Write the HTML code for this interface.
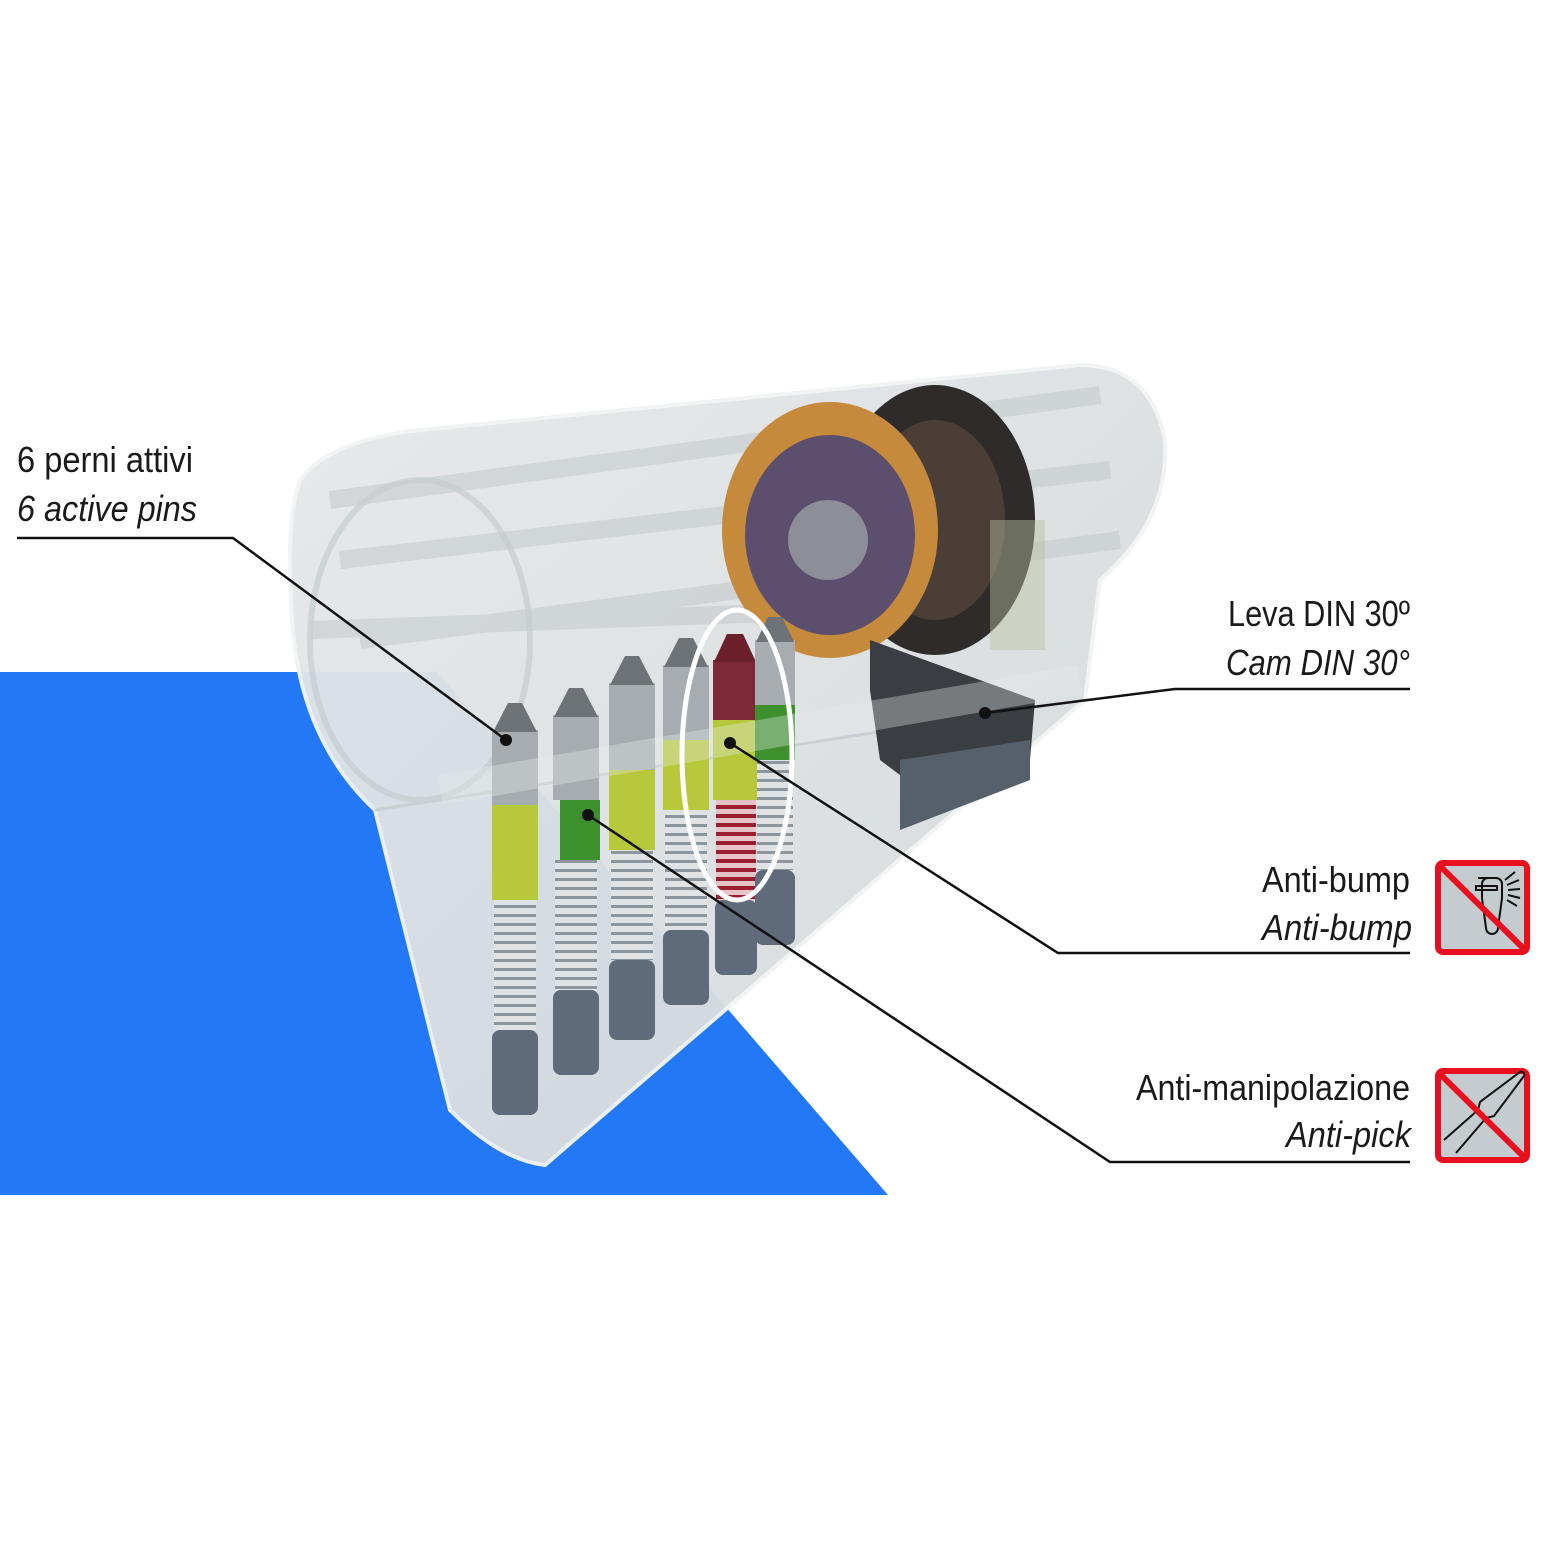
<!DOCTYPE html>
<html><head><meta charset="utf-8"><style>
html,body{margin:0;padding:0;background:#fff;}
svg{display:block}
text{font-family:"Liberation Sans Narrow","Liberation Sans",sans-serif;font-size:36px;fill:#1a1a1a}
.i{font-style:italic}
</style></head><body>
<svg width="1548" height="1548" viewBox="0 0 1548 1548" xmlns="http://www.w3.org/2000/svg">
<defs>
<pattern id="sp" width="10" height="9" patternUnits="userSpaceOnUse">
<rect width="10" height="9" fill="#dfe3e5"/><rect y="5" width="10" height="3" fill="#8d969c"/>
</pattern>
<pattern id="spr" width="10" height="9" patternUnits="userSpaceOnUse">
<rect width="10" height="9" fill="#e7c3c8"/><rect y="4" width="10" height="4" fill="#9a1e32"/>
</pattern>
<linearGradient id="body" x1="0" y1="0" x2="1" y2="1">
<stop offset="0" stop-color="#e6e9ea"/><stop offset="1" stop-color="#d3d8da"/>
</linearGradient>
</defs>
<rect width="1548" height="1548" fill="#fff"/>
<polygon points="0,672 437,672 888,1195 0,1195" fill="#2378f5"/>
<path d="M300,480 Q330,440 420,430 L1080,365 Q1150,365 1165,440 Q1170,520 1100,580 L1085,700 L545,1165 Q500,1160 450,1110 L375,810 Q300,740 292,620 Q285,520 300,480 Z" fill="url(#body)" opacity="0.96" stroke="#f2f4f4" stroke-width="4"/>
<path d="M330,500 L1100,395 M340,560 L1110,470 M360,640 L1120,540 M310,630 L850,610" stroke="#bfc6c9" stroke-width="18" opacity="0.5" fill="none"/>
<ellipse cx="420" cy="640" rx="110" ry="160" fill="none" stroke="#c6ccce" stroke-width="6" opacity="0.7"/>
<path d="M375,810 L1085,700" stroke="#c9cfd2" stroke-width="3"/>
<!-- cam -->
<ellipse cx="935" cy="520" rx="100" ry="135" fill="#2e2b2a"/>
<ellipse cx="935" cy="520" rx="70" ry="100" fill="#4a3e36"/>
<ellipse cx="830" cy="530" rx="108" ry="128" fill="#c58a3c"/>
<ellipse cx="830" cy="535" rx="85" ry="100" fill="#5c4f6e"/>
<circle cx="828" cy="540" r="40" fill="#8d8f96"/>
<path d="M870,640 L1035,700 L1030,760 L920,790 L880,760 L870,690 Z" fill="#3a3d41"/>
<path d="M900,760 L1030,740 L1030,780 L900,830 Z" fill="#55606a"/>
<rect x="990" y="520" width="55" height="130" fill="#b8c0a0" opacity="0.45"/>
<!-- pins -->
<g>
<rect x="492" y="1030" width="46" height="85" rx="8" fill="#5f6b7a"/>
<rect x="494" y="900" width="42" height="130" fill="url(#sp)"/>
<rect x="492" y="805" width="46" height="95" fill="#b7c83a"/>
<rect x="492" y="730" width="46" height="75" fill="#a6acb0"/>
<path d="M493,732 L508,703 L522,703 L537,732 Z" fill="#6e7378"/>
<rect x="553" y="990" width="46" height="85" rx="8" fill="#5f6b7a"/>
<rect x="555" y="860" width="42" height="130" fill="url(#sp)"/>
<rect x="560" y="800" width="40" height="60" fill="#3e8f2e"/>
<rect x="553" y="715" width="46" height="85" fill="#a6acb0"/>
<path d="M554,717 L569,688 L583,688 L598,717 Z" fill="#6e7378"/>
<rect x="609" y="960" width="46" height="80" rx="8" fill="#5f6b7a"/>
<rect x="611" y="850" width="42" height="110" fill="url(#sp)"/>
<rect x="609" y="770" width="46" height="80" fill="#b7c83a"/>
<rect x="609" y="683" width="46" height="87" fill="#a6acb0"/>
<path d="M610,685 L625,656 L639,656 L654,685 Z" fill="#6e7378"/>
<rect x="663" y="930" width="46" height="75" rx="8" fill="#5f6b7a"/>
<rect x="665" y="810" width="42" height="120" fill="url(#sp)"/>
<rect x="663" y="740" width="46" height="70" fill="#b7c83a"/>
<rect x="663" y="665" width="46" height="75" fill="#a6acb0"/>
<path d="M664,667 L679,638 L693,638 L708,667 Z" fill="#6e7378"/>
<rect x="715" y="900" width="42" height="75" rx="8" fill="#5f6b7a"/>
<rect x="716" y="800" width="40" height="100" fill="url(#spr)"/>
<rect x="713" y="720" width="44" height="80" fill="#b7c83a"/>
<rect x="713" y="660" width="44" height="60" fill="#7d2a36"/>
<path d="M714,662 L727,634 L743,634 L756,662 Z" fill="#6a1f2b"/>
<rect x="755" y="870" width="40" height="75" rx="8" fill="#5f6b7a"/>
<rect x="757" y="760" width="36" height="110" fill="url(#sp)"/>
<rect x="755" y="705" width="40" height="55" fill="#3e8f2e"/>
<rect x="755" y="640" width="40" height="65" fill="#a6acb0"/>
<path d="M756,642 L768,617 L782,617 L794,642 Z" fill="#6e7378"/>
</g>
<path d="M440,790 L1080,680" stroke="#e8ecec" stroke-width="30" opacity="0.35"/>
<ellipse cx="737" cy="755" rx="55" ry="145" fill="none" stroke="#fff" stroke-width="5"/>
<g stroke="#111" stroke-width="2.5" fill="none">
<polyline points="17,538 233,538 506,740"/>
<polyline points="1410,689 1175,689 985,713"/>
<polyline points="1410,953 1058,953 730,743"/>
<polyline points="1410,1162 1110,1162 588,815"/>
</g>
<g fill="#111"><circle cx="506" cy="740" r="6"/><circle cx="985" cy="713" r="6"/><circle cx="730" cy="743" r="6"/><circle cx="588" cy="815" r="6"/></g>
<text x="17" y="472" textLength="176" lengthAdjust="spacingAndGlyphs">6 perni attivi</text>
<text x="17" y="521" class="i" textLength="180" lengthAdjust="spacingAndGlyphs">6 active pins</text>
<text x="1228" y="626" textLength="182" lengthAdjust="spacingAndGlyphs">Leva DIN 30º</text>
<text x="1226" y="675" class="i" textLength="184" lengthAdjust="spacingAndGlyphs">Cam DIN 30°</text>
<text x="1262" y="892" textLength="148" lengthAdjust="spacingAndGlyphs">Anti-bump</text>
<text x="1262" y="940" class="i" textLength="150" lengthAdjust="spacingAndGlyphs">Anti-bump</text>
<text x="1136" y="1100" textLength="274" lengthAdjust="spacingAndGlyphs">Anti-manipolazione</text>
<text x="1286" y="1147" class="i" textLength="125" lengthAdjust="spacingAndGlyphs">Anti-pick</text>
<rect x="1438" y="863" width="89" height="89" rx="5" fill="#c5ccd0" stroke="#e8101e" stroke-width="6"/>
<g stroke="#111" stroke-width="2" fill="none">
<path d="M1478,878 h18 a6 6 0 0 1 6 6 v14 l-4 30 a6 6 0 0 1 -12 0 l-4 -30 v-14 a6 6 0 0 1 6 -6 z"/>
<rect x="1476" y="886" width="21" height="4"/>
<path d="M1505,880 l10,-8 M1507,885 l12,-5 M1508,890 l12,-1 M1508,895 l12,3 M1507,900 l10,6"/>
</g>
<line x1="1440" y1="866" x2="1525" y2="950" stroke="#e8101e" stroke-width="6"/>
<rect x="1438" y="1071" width="89" height="89" rx="5" fill="#c5ccd0" stroke="#e8101e" stroke-width="6"/>
<g stroke="#111" stroke-width="2" fill="none">
<path d="M1444,1140 l34,-30 l2,-8 l40,-30 a3 3 0 0 1 4,4 l-30,40 l-8,2 l-30,35"/>
</g>
<line x1="1440" y1="1074" x2="1525" y2="1158" stroke="#e8101e" stroke-width="6"/>
</svg>
</body></html>
